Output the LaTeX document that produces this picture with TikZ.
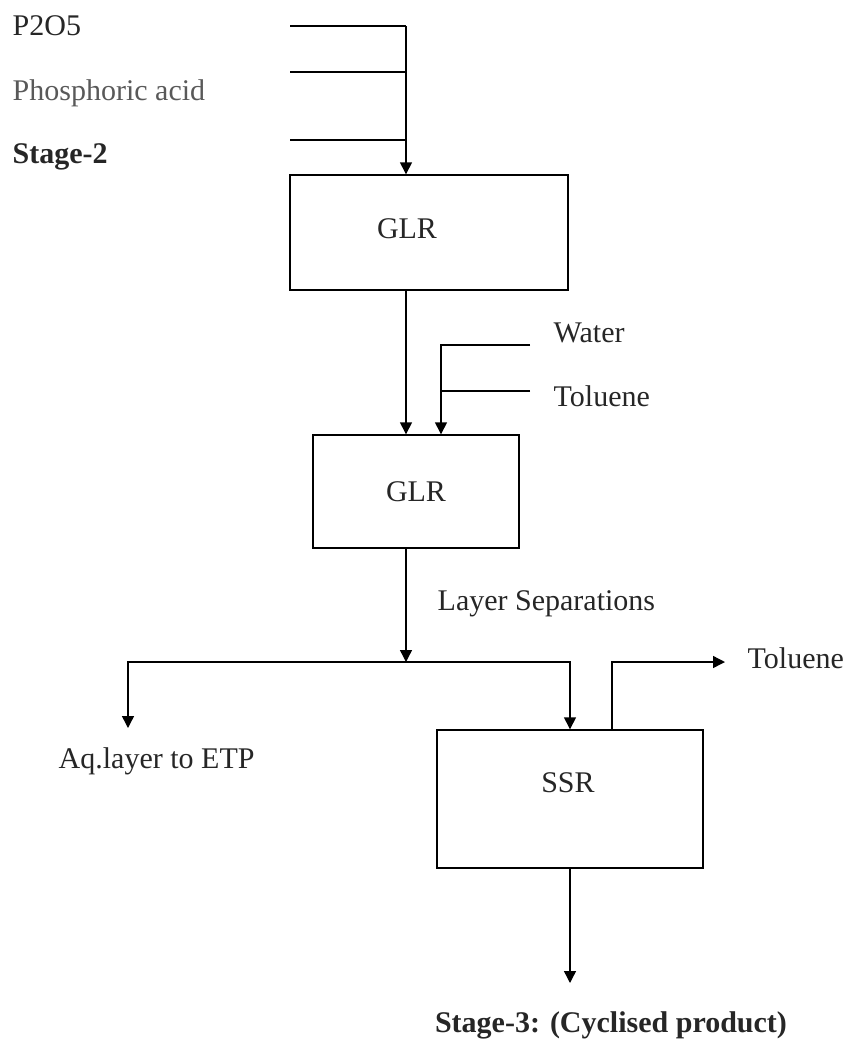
\documentclass[tikz,border=0pt]{standalone}
\usepackage{fontspec}
\setmainfont{Liberation Serif}
\usetikzlibrary{arrows.meta}

\begin{document}
\begin{tikzpicture}[x=0.5pt,y=-0.5pt,line width=0.7pt,>={Triangle[length=6pt,width=6pt]},
  every node/.style={font=\fontsize{15}{18}\selectfont,text=black!85,inner sep=0pt},
  unit/.style={draw,inner sep=0pt}]
\useasboundingbox (0,0) rectangle (849,1040);
% feeds
\node[anchor=base west] (p2o5) at (12,35) {P2O5};
\node[anchor=base west,text=black!65] (acid) at (12,100) {Phosphoric acid};
\node[anchor=base west,font=\fontsize{15}{18}\selectfont\bfseries] (st2) at (12,163) {Stage-2};
\coordinate (a1) at (290,26);
\coordinate (a2) at (290,72);
\coordinate (a3) at (290,140);
\coordinate (j1) at (406,26);
% reactors
\node[unit,minimum width=139pt,minimum height=57.5pt] (glrA) at (429,232.5) {};
\node (glrAtxt) at (407,229) {GLR};
\node[unit,minimum width=103pt,minimum height=56.5pt] (glrB) at (416,491.5) {GLR};
\node[unit,minimum width=133pt,minimum height=69pt] (ssr) at (570,799) {};
\node (ssrtxt) at (568,783) {SSR};
% water and toluene
\node[anchor=base west] (water) at (553,342) {Water};
\node[anchor=base west] (tolA) at (553,406) {Toluene};
\coordinate (w) at (530,345);
\coordinate (t) at (530,391);
\coordinate (j2) at (441,345);
% split
\node[anchor=base west] (sep) at (437,610) {Layer Separations};
\coordinate (sp) at (406,662);
\coordinate (aqt) at (128,728);
\node[anchor=base west] (aq) at (58,768) {Aq.layer to ETP};
\coordinate (so) at (612,662);
\coordinate (sot) at (725,662);
\node[anchor=base west] (tolB) at (747,668) {Toluene};
\coordinate (pt) at (570,983);
\node[anchor=base,font=\fontsize{15}{18}\selectfont\bfseries] (st3) at (611,1032) {Stage-3: (Cyclised product)};
% lines
\path[draw,-] (a1) -- (j1);
\path[draw,-] (a2) -- (a2 -| j1);
\path[draw,-] (a3) -- (a3 -| j1);
\path[draw,->] (j1) -- (j1 |- glrA.north);
\path[draw,->] (glrA.south -| j1) -- (glrB.north -| j1);
\path[draw,->] (w) -- (j2) -- (j2 |- glrB.north);
\path[draw,-] (t) -- (t -| j2);
\path[draw,->] (glrB.south -| sp) -- (sp);
\path[draw,->] (sp) -| (aqt);
\path[draw,->] (sp) -| (ssr.north);
\path[draw,->] (so |- ssr.north) -- (so) -- (sot);
\path[draw,->] (ssr.south) -- (pt);
\end{tikzpicture}
\end{document}
